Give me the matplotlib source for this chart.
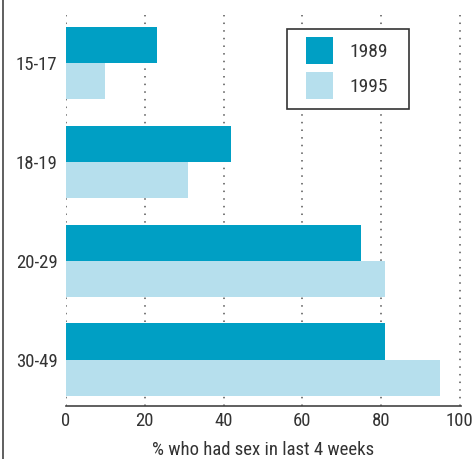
import matplotlib
matplotlib.use("Agg")
import matplotlib.pyplot as plt
import numpy as np
from matplotlib.patches import Patch, Rectangle
from matplotlib.lines import Line2D

categories = ["15-17", "18-19", "20-29", "30-49"]
values_1989 = [23, 42, 75, 81]
values_1995 = [10, 31, 81, 95]
series_labels = ["1989", "1995"]
x_ticks = [0, 20, 40, 60, 80, 100]
x_label = "% who had sex in last 4 weeks"

dark = "#009fc4"
light = "#b6dfed"
text_color = "#333333"

plt.rcParams["font.family"] = ["Liberation Sans Narrow", "Roboto Condensed", "Liberation Sans", "DejaVu Sans"]

W, H = 477, 459
fig = plt.figure(figsize=(W / 100, H / 100), dpi=100)
ax = fig.add_axes([66 / W, 1 - 406 / H, (461 - 66) / W, (406 - 15) / H])

y = np.arange(len(categories))
h = 0.365
ax.barh(y - h / 2, values_1989, height=h, color=dark, zorder=2)
ax.barh(y + h / 2, values_1995, height=h, color=light, zorder=2)

ax.set_ylim(3.47, -0.485)
ax.set_xlim(0, 100.3)
ax.set_xticks(x_ticks)
ax.set_xticklabels([str(t) for t in x_ticks])
ax.set_yticks(y)
ax.set_yticklabels(categories)
ax.tick_params(axis="both", length=0, labelsize=13.5, colors=text_color)
ax.tick_params(axis="x", pad=4)
ax.tick_params(axis="y", pad=6)

for t in x_ticks:
    ax.axvline(t, color="#555555", linestyle=(0, (1, 4)), linewidth=1.1, zorder=1)

for s in ["top", "right", "left"]:
    ax.spines[s].set_visible(False)
ax.spines["bottom"].set_color("#444444")
ax.spines["bottom"].set_linewidth(1.2)

ax.set_xlabel(x_label, fontsize=13.5, color=text_color, labelpad=8)

# legend entries without frame; the box is drawn separately
handles = [Patch(facecolor=dark, edgecolor="none"), Patch(facecolor=light, edgecolor="none")]
leg = fig.legend(handles, series_labels, loc="upper left",
                 bbox_to_anchor=(306 / W, 1 - 37 / H),
                 frameon=False, fontsize=14, handlelength=1.39, handleheight=1.76,
                 handletextpad=0.85, borderpad=0, labelspacing=0.4, borderaxespad=0)
for txt in leg.get_texts():
    txt.set_color(text_color)

fig.add_artist(Rectangle((287 / W, 1 - 109 / H), (409 - 287) / W, (109 - 29) / H,
                         transform=fig.transFigure, facecolor="white", edgecolor="#333333",
                         linewidth=1.2, zorder=3))
leg.set_zorder(4)

# left border of the panel
fig.add_artist(Line2D([2.5 / W, 2.5 / W], [0, 1], color="#444444", linewidth=1.2,
                      transform=fig.transFigure))

fig.savefig("out.png", dpi=100)
